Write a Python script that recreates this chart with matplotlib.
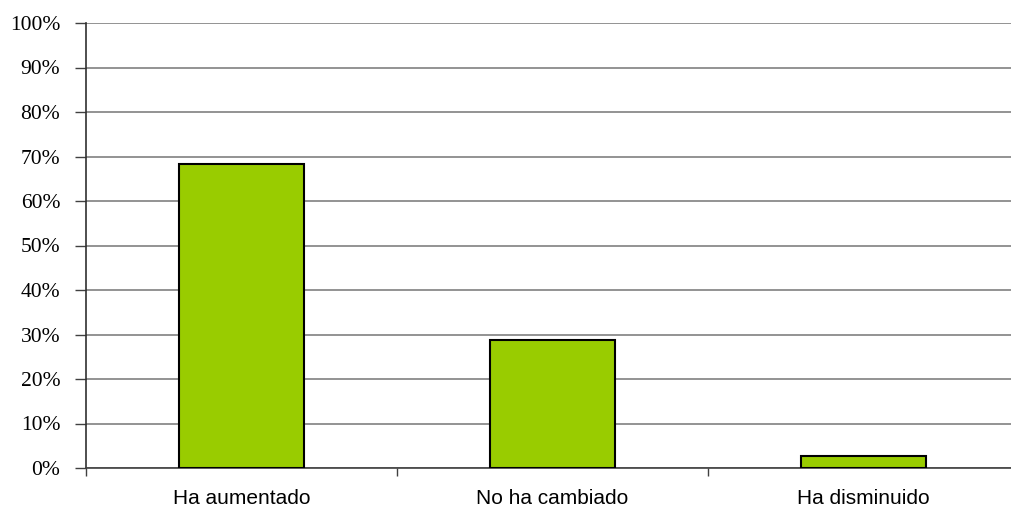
import matplotlib.pyplot as plt
from matplotlib.ticker import FixedLocator, PercentFormatter

categories = ["Ha aumentado", "No ha cambiado", "Ha disminuido"]
values = [68.3, 28.8, 2.7]
y_ticks = list(range(0, 101, 10))

fig = plt.figure(figsize=(10.11, 5.09), dpi=100)
ax = fig.add_axes([86 / 1011, 41 / 509, 933 / 1011, 445 / 509])

x = range(len(categories))
ax.bar(x, values, width=0.4, color="#99CC00", edgecolor="black", linewidth=1.5, zorder=3)

ax.set_xlim(-0.5, 2.5)
ax.set_ylim(0, 100)
ax.set_yticks(y_ticks)
ax.yaxis.set_major_formatter(PercentFormatter(decimals=0))
ax.yaxis.grid(True, color="#808080", linewidth=1.2)
ax.set_axisbelow(True)

ax.set_xticks(list(x))
ax.set_xticklabels(categories, fontfamily="Liberation Sans", fontsize=15)
ax.xaxis.set_minor_locator(FixedLocator([-0.5, 0.5, 1.5, 2.5]))
ax.tick_params(axis="x", which="major", length=0, pad=15)
ax.tick_params(axis="x", which="minor", length=6, width=1, color="#404040")
ax.tick_params(axis="y", length=8, width=1, color="#404040", pad=10.5)
for lab in ax.get_yticklabels():
    lab.set_fontfamily("Liberation Serif")
    lab.set_fontsize(15.5)

for s in ["top", "right"]:
    ax.spines[s].set_visible(False)
ax.spines["left"].set_color("#303030")
ax.spines["bottom"].set_color("#404040")
ax.spines["left"].set_linewidth(1.2)
ax.spines["bottom"].set_linewidth(1.2)

fig.savefig("out.png", dpi=100)
